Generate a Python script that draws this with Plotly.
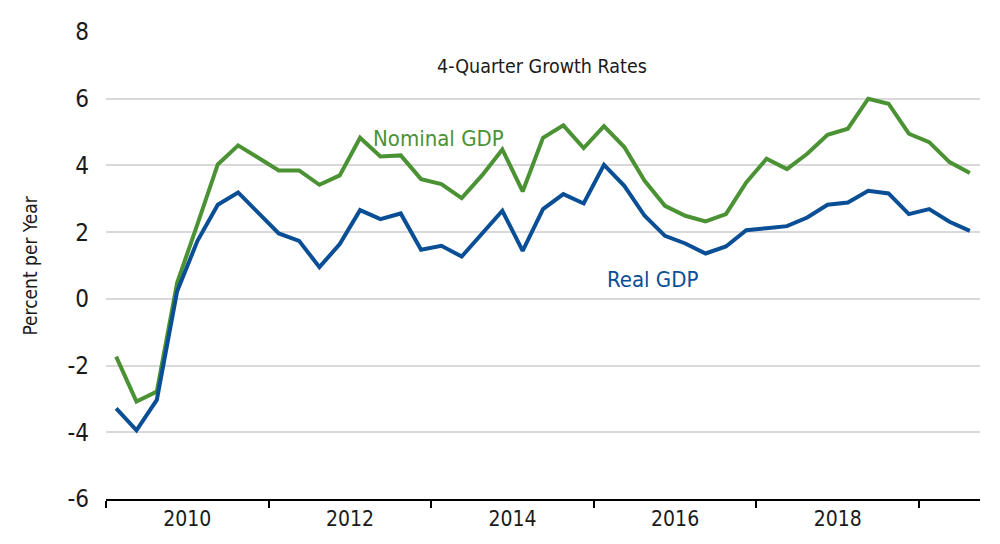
import plotly.graph_objects as go

# quarterly 4-quarter growth rates, 2009Q1 - 2019Q3
start_year = 2009
nominal_gdp = [-1.73, -3.08, -2.78, 0.48, 2.24, 4.03, 4.60, 4.23, 3.85, 3.85,
               3.42, 3.70, 4.83, 4.27, 4.30, 3.59, 3.44, 3.02, 3.70, 4.48,
               3.22, 4.83, 5.20, 4.52, 5.18, 4.55, 3.54, 2.79, 2.49, 2.32,
               2.54, 3.49, 4.20, 3.89, 4.35, 4.92, 5.10, 6.00, 5.85, 4.95,
               4.70, 4.10, 3.77]
real_gdp = [-3.28, -3.94, -3.03, 0.23, 1.74, 2.82, 3.19, 2.57, 1.96, 1.74,
            0.95, 1.64, 2.66, 2.39, 2.56, 1.47, 1.59, 1.27, 1.94, 2.64,
            1.44, 2.69, 3.14, 2.86, 4.02, 3.39, 2.49, 1.89, 1.66, 1.36,
            1.57, 2.06, 2.12, 2.18, 2.44, 2.82, 2.89, 3.24, 3.16, 2.54,
            2.69, 2.31, 2.04]
year_labels = [2010, 2012, 2014, 2016, 2018]
year_ticks = [2009, 2011, 2013, 2015, 2017, 2019]
y_ticks = [-6, -4, -2, 0, 2, 4, 6, 8]

# mid-quarter position in decimal years
x = [start_year + (i + 0.5) / 4 for i in range(len(real_gdp))]

green = "#4A9233"
blue = "#0A4F96"
font = "DejaVu Sans Condensed, Liberation Sans Narrow, Arial Narrow, sans-serif"

fig = go.Figure()
fig.add_trace(go.Scatter(x=x, y=nominal_gdp, mode="lines", name="Nominal GDP",
                         line=dict(color=green, width=4)))
fig.add_trace(go.Scatter(x=x, y=real_gdp, mode="lines", name="Real GDP",
                         line=dict(color=blue, width=4)))

fig.update_layout(
    width=1000,
    height=544,
    showlegend=False,
    plot_bgcolor="white",
    paper_bgcolor="white",
    margin=dict(l=98, r=28, t=24, b=53, autoexpand=False),
    font=dict(family=font, color="#1a1a1a"),
    annotations=[
        dict(text="4-Quarter Growth Rates", x=0.499, y=0.955, xref="paper", yref="paper",
             showarrow=False, font=dict(size=19.5, color="#1a1a1a")),
        dict(text="Nominal GDP", x=0.38, y=0.803, xref="paper", yref="paper",
             showarrow=False, font=dict(size=22, color=green)),
        dict(text="Real GDP", x=0.625, y=0.469, xref="paper", yref="paper",
             showarrow=False, font=dict(size=22, color=blue)),
        dict(text="Percent per Year", x=-0.088, y=0.5, xref="paper", yref="paper",
             xanchor="center", yanchor="middle", textangle=-90, showarrow=False,
             font=dict(size=19, color="#1a1a1a")),
    ],
)

fig.update_xaxes(
    range=[start_year, start_year + len(real_gdp) / 4],
    tickvals=year_labels,
    ticktext=[str(y) for y in year_labels],
    ticks="",
    tickfont=dict(size=21),
    showgrid=False,
    showline=True,
    linecolor="black",
    linewidth=2,
    automargin=False,
    minor=dict(tickvals=year_ticks, ticks="outside", ticklen=7, tickwidth=2, tickcolor="black",
               showgrid=False),
)
fig.update_yaxes(
    range=[-6, 8],
    tickvals=y_ticks,
    ticktext=[str(v) for v in y_ticks],
    showgrid=True,
    gridcolor="#d9d9d9",
    gridwidth=1.5,
    zeroline=False,
    showline=False,
    automargin=False,
    tickfont=dict(size=24),
    ticklabelstandoff=16,
)

fig.write_html("out.html")
